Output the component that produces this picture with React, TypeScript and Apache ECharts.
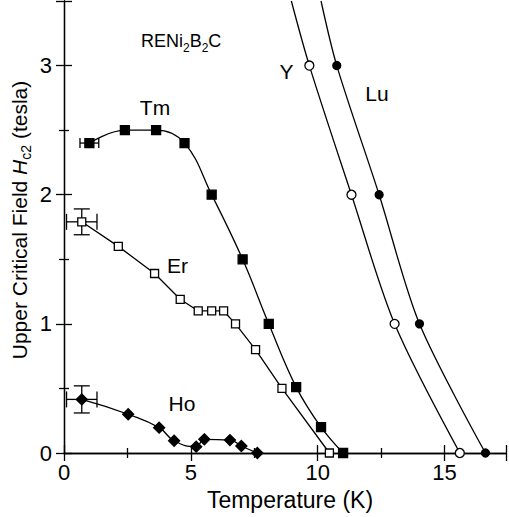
import React, { useEffect, useRef } from 'react';
import * as echarts from 'echarts';

// Temperature (K) and upper critical field (tesla)
const tmT = [1.0, 2.4, 3.63, 4.75, 5.82, 7.04, 8.07, 9.15, 10.13, 11.0];
const tmH = [2.4, 2.5, 2.5, 2.4, 2.0, 1.5, 1.0, 0.51, 0.2, 0.0];
const erT = [0.7, 2.14, 3.57, 4.58, 5.29, 5.82, 6.29, 6.76, 7.55, 8.59, 10.46];
const erH = [1.79, 1.6, 1.39, 1.19, 1.1, 1.1, 1.1, 1.0, 0.8, 0.5, 0.0];
const hoT = [0.7, 2.53, 3.75, 4.34, 5.21, 5.53, 6.54, 6.99, 7.62];
const hoH = [0.415, 0.3, 0.196, 0.095, 0.049, 0.106, 0.1, 0.054, 0.0];
const yT = [9.67, 11.33, 13.03, 15.6];
const yH = [3.0, 2.0, 1.0, 0.0];
const luT = [10.75, 12.42, 14.01, 16.61];
const luH = [3.0, 2.0, 1.0, 0.0];
// fitted curves continue to the top of the frame
const yFitTop = [8.96, 3.5];
const luFitTop = [10.13, 3.5];
// error bars: [T, H, dT, dH]
const errTm = [1.0, 2.4, 0.37, 0];
const errEr = [0.7, 1.79, 0.6, 0.1];
const errHo = [0.7, 0.415, 0.6, 0.105];

const xTicks = [0, 5, 10, 15];
const yTicks = [0, 1, 2, 3];

const FONT = 'Liberation Sans, Arial, sans-serif';
const BLACK = '#000';

const zip = (a: number[], b: number[]) => a.map((v, i) => [v, b[i]]);

function errSeries(data: number[][], cap: number) {
  return {
    type: 'custom',
    z: 1,
    silent: true,
    data,
    renderItem: (_p: any, api: any) => {
      const x = api.value(0), y = api.value(1), dx = api.value(2), dy = api.value(3);
      const st = { stroke: BLACK, lineWidth: 1.3 };
      const ch: any[] = [];
      if (dx > 0) {
        const l = api.coord([x - dx, y]);
        const r = api.coord([x + dx, y]);
        ch.push({ type: 'line', shape: { x1: l[0], y1: l[1], x2: r[0], y2: r[1] }, style: st });
        ch.push({ type: 'line', shape: { x1: l[0], y1: l[1] - cap, x2: l[0], y2: l[1] + cap }, style: st });
        ch.push({ type: 'line', shape: { x1: r[0], y1: r[1] - cap, x2: r[0], y2: r[1] + cap }, style: st });
      }
      if (dy > 0) {
        const t = api.coord([x, y + dy]);
        const b = api.coord([x, y - dy]);
        ch.push({ type: 'line', shape: { x1: t[0], y1: t[1], x2: b[0], y2: b[1] }, style: st });
        ch.push({ type: 'line', shape: { x1: t[0] - cap, y1: t[1], x2: t[0] + cap, y2: t[1] }, style: st });
        ch.push({ type: 'line', shape: { x1: b[0] - cap, y1: b[1], x2: b[0] + cap, y2: b[1] }, style: st });
      }
      return { type: 'group', children: ch };
    },
  };
}

function lineSeries(data: number[][], smooth: number | boolean) {
  return {
    type: 'line',
    data,
    smooth,
    showSymbol: false,
    symbol: 'none',
    z: 2,
    silent: true,
    lineStyle: { color: BLACK, width: 1.3 },
  };
}

function markSeries(data: number[][], symbol: string, size: number, filled: boolean) {
  return {
    type: 'scatter',
    data,
    symbol,
    symbolSize: size,
    z: 3,
    silent: true,
    itemStyle: { color: filled ? BLACK : '#fff', borderColor: BLACK, borderWidth: 1.3, opacity: 1 },
  };
}

export default function App() {
  const ref = useRef<HTMLDivElement>(null);
  useEffect(() => {
    if (!ref.current) return;
    const chart = echarts.init(ref.current, undefined, { renderer: 'svg' });
    const tickStyle = { color: BLACK, width: 1.3 };
    const baseX = {
      type: 'value',
      min: 0,
      max: 17.42,
      interval: 5,
      splitLine: { show: false },
      axisLine: { show: true, lineStyle: tickStyle },
      axisTick: { show: true, inside: true, length: 8, lineStyle: tickStyle },
      minorTick: { show: true, splitNumber: 2, length: 5, lineStyle: tickStyle },
    };
    const baseY = {
      type: 'value',
      min: 0,
      max: 3.5,
      interval: 1,
      splitLine: { show: false },
      axisLine: { show: true, lineStyle: tickStyle },
      axisTick: { show: true, inside: true, length: 8, lineStyle: tickStyle },
      minorTick: { show: true, splitNumber: 2, length: 5, lineStyle: tickStyle },
    };
    const sub = (fs: number, sfs: number) => ({
      n: { fontSize: fs, lineHeight: fs, verticalAlign: 'top', fontFamily: FONT, color: BLACK },
      i: { fontSize: fs, lineHeight: fs, verticalAlign: 'top', fontFamily: FONT, color: BLACK, fontStyle: 'italic' },
      s: { fontSize: sfs, lineHeight: fs + 14, fontFamily: FONT, color: BLACK },
    });
    const lbl = (text: string, x: number, y: number) => ({
      type: 'text',
      x,
      y,
      silent: true,
      style: { text, fontSize: 21, fontFamily: FONT, fill: BLACK, align: 'center', verticalAlign: 'middle' },
    });
    chart.setOption({
      animation: false,
      backgroundColor: '#fff',
      grid: { left: 64, right: -1, top: 1, bottom: 64, containLabel: false },
      xAxis: [
        {
          ...baseX,
          position: 'bottom',
          name: 'Temperature (K)',
          nameLocation: 'middle',
          nameGap: 35,
          nameTextStyle: { fontSize: 23, fontFamily: FONT, color: BLACK, padding: [0, 0, 0, 10] },
          axisLabel: {
            fontSize: 22,
            fontFamily: FONT,
            color: BLACK,
            margin: 8,
            formatter: (v: number) => (xTicks.includes(v) ? String(v) : ''),
          },
        },
        { ...baseX, position: 'top', axisLabel: { show: false } },
      ],
      yAxis: [
        {
          ...baseY,
          position: 'left',
          axisLabel: {
            fontSize: 22,
            fontFamily: FONT,
            color: BLACK,
            margin: 12,
            formatter: (v: number) => (yTicks.includes(v) ? String(v) : ''),
          },
        },
        { ...baseY, position: 'right', axisLabel: { show: false } },
      ],
      graphic: [
        {
          type: 'text',
          x: 26,
          y: 220,
          rotation: Math.PI / 2,
          silent: true,
          style: {
            text: '{n|Upper Critical Field }{i|H}{s|c2}{n| (tesla)}',
            rich: sub(21, 14),
            align: 'center',
            verticalAlign: 'middle',
          },
        },
        {
          type: 'text',
          x: 141,
          y: 48,
          silent: true,
          style: {
            text: '{n|RENi}{s|2}{n|B}{s|2}{n|C}',
            rich: sub(18, 12),
            align: 'left',
            verticalAlign: 'middle',
          },
        },
        lbl('Tm', 155, 107),
        lbl('Er', 177.5, 265),
        lbl('Ho', 182, 403),
        lbl('Y', 286.5, 71),
        lbl('Lu', 377, 93),
      ],
      series: [
        errSeries([errTm], 5),
        errSeries([errEr, errHo], 8),
        lineSeries(zip(tmT, tmH), 0.4),
        lineSeries(zip(erT, erH), false),
        lineSeries(zip(hoT, hoH), 0.5),
        lineSeries([yFitTop, ...zip(yT, yH)], 0.3),
        lineSeries([luFitTop, ...zip(luT, luH)], 0.3),
        markSeries(zip(tmT, tmH), 'rect', 9, true),
        markSeries(zip(erT, erH), 'rect', 8, false),
        markSeries(zip(hoT, hoH), 'diamond', 11, true),
        markSeries(zip(yT, yH), 'circle', 9, false),
        markSeries(zip(luT, luH), 'circle', 8, true),
      ],
    });
    return () => chart.dispose();
  }, []);
  return (
    <div
      ref={ref}
      style={{ position: 'absolute', left: 0, top: 0, width: 509, height: 517, background: '#fff' }}
    />
  );
}
